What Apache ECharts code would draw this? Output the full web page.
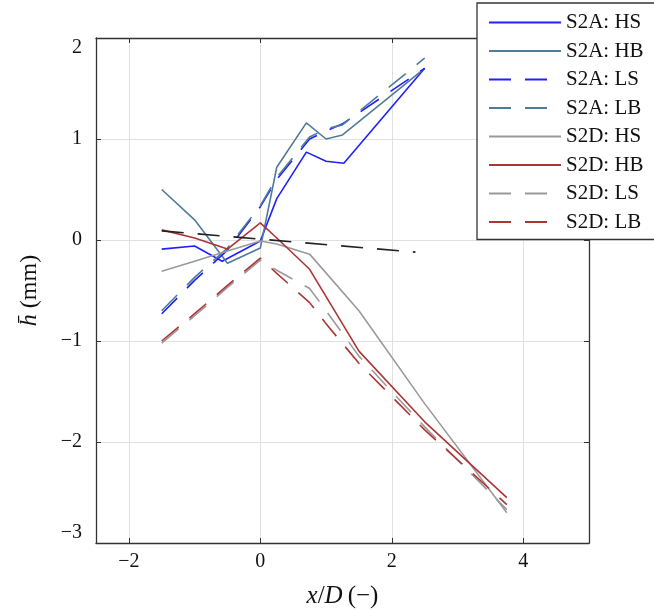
<!DOCTYPE html>
<html>
<head>
<meta charset="utf-8">
<script src="https://cdn.jsdelivr.net/npm/echarts@6/dist/echarts.min.js"></script>
<style>html,body{margin:0;padding:0;background:#fff;}#c{width:654px;height:610px;}</style>
</head>
<body>
<div id="c"></div>
<script>
// ---- data ----
const seriesNames = ['S2A: HS', 'S2A: HB', 'S2A: LS', 'S2A: LB', 'S2D: HS', 'S2D: HB', 'S2D: LS', 'S2D: LB'];
const x_S2A_HS = [-1.5, -1.0, -0.58, 0.0, 0.25, 0.7, 1.0, 1.27, 2.5];
const y_S2A_HS = [-0.09, -0.06, -0.21, -0.01, 0.41, 0.87, 0.78, 0.76, 1.7];
const x_S2A_HB = [-1.5, -1.0, -0.5, 0.0, 0.25, 0.7, 1.0, 1.25, 2.5];
const y_S2A_HB = [0.5, 0.2, -0.23, -0.08, 0.72, 1.16, 1.0, 1.04, 1.7];
const x_S2A_LS = [-1.5, -1.0, -0.5, 0.0, 0.25, 0.75, 1.0, 1.25, 2.5];
const y_S2A_LS = [-0.73, -0.4, -0.1, 0.33, 0.6, 1.0, 1.08, 1.15, 1.7];
const x_S2A_LB = [-1.5, -1.0, -0.5, 0.0, 0.25, 0.75, 1.0, 1.25, 2.5];
const y_S2A_LB = [-0.7, -0.37, -0.08, 0.34, 0.62, 1.02, 1.1, 1.14, 1.8];
const x_S2D_HS = [-1.5, -1.0, -0.5, 0.0, 0.25, 0.75, 1.5, 2.5, 3.75];
const y_S2D_HS = [-0.31, -0.21, -0.11, -0.01, -0.04, -0.14, -0.7, -1.62, -2.7];
const x_S2D_HB = [-1.5, -1.0, -0.5, 0.0, 0.25, 0.75, 1.5, 2.5, 3.75];
const y_S2D_HB = [0.1, 0.02, -0.09, 0.17, 0.02, -0.29, -1.1, -1.8, -2.55];
const x_S2D_LS = [-1.5, -1.0, -0.5, 0.0, 0.25, 0.75, 1.0, 1.5, 2.5, 3.75];
const y_S2D_LS = [-1.02, -0.75, -0.47, -0.2, -0.3, -0.48, -0.7, -1.15, -1.85, -2.67];
const x_S2D_LB = [-1.5, -1.0, -0.5, 0.0, 0.25, 0.75, 1.0, 1.5, 2.5, 3.75];
const y_S2D_LB = [-1.0, -0.73, -0.45, -0.18, -0.33, -0.62, -0.83, -1.22, -1.88, -2.62];
const x_fit = [-1.5, 2.36];
const y_fit = [0.09, -0.12];
const xRange = [-2.5, 5];
const yRange = [-3, 2];

// ---- build ----
const xs = [x_S2A_HS, x_S2A_HB, x_S2A_LS, x_S2A_LB, x_S2D_HS, x_S2D_HB, x_S2D_LS, x_S2D_LB];
const ys = [y_S2A_HS, y_S2A_HB, y_S2A_LS, y_S2A_LB, y_S2D_HS, y_S2D_HB, y_S2D_LS, y_S2D_LB];
const colors = ['#2020ff', '#4f7b9b', '#2020ff', '#4f7b9b', '#9a9a9a', '#ad3535', '#9a9a9a', '#ad3535'];
const dashed = [false, false, true, true, false, false, true, true];
const pair = (a, b) => a.map((v, i) => [v, b[i]]);
const DASH = [22, 14];
const FONT = 'Liberation Serif';

const series = seriesNames.map((n, i) => ({
  name: n, type: 'line', symbol: 'none', showSymbol: false, animation: false,
  data: pair(xs[i], ys[i]),
  itemStyle: { color: colors[i] },
  lineStyle: { color: colors[i], width: 1.6, type: dashed[i] ? DASH : 'solid' },
  z: 2 + i
}));
series.push({
  name: 'fit', type: 'line', symbol: 'none', showSymbol: false, animation: false,
  data: pair(x_fit, y_fit),
  itemStyle: { color: '#222' },
  lineStyle: { color: '#222', width: 1.6, type: DASH }, z: 20
});

const minus = s => String(s).replace('-', '\u2212');
const axisLine = { show: true, onZero: false, lineStyle: { color: '#333', width: 1.3 } };
const splitLine = { show: true, lineStyle: { color: '#e0e0e0', width: 1 } };
const tick = { show: true, inside: true, length: 5, lineStyle: { color: '#333' } };

const option = {
  backgroundColor: '#fff',
  animation: false,
  grid: { left: 96, right: 65, top: 38, bottom: 67, containLabel: false, outerBoundsMode: 'none' },
  legend: {
    data: seriesNames, orient: 'vertical', left: 477, top: 3,
    itemWidth: 72, itemHeight: 14, itemGap: 7.5,
    padding: [9, 40, 7, 11],
    backgroundColor: '#fff', borderColor: '#333', borderWidth: 1.3,
    itemStyle: { opacity: 0 },
    textStyle: { fontFamily: FONT, fontSize: 21, color: '#111' }
  },
  xAxis: [{
    type: 'value', position: 'bottom', min: xRange[0], max: xRange[1], splitNumber: 4,
    axisLine, splitLine, axisTick: tick,
    axisLabel: {
      showMinLabel: false, showMaxLabel: false,
      fontFamily: FONT, fontSize: 20, color: '#111', margin: 9,
      formatter: v => (Math.abs(v % 2) < 1e-9 ? minus(v) : '')
    },
    name: '{i|x}/{i|D}\u2009(\u2212)', nameLocation: 'middle', nameGap: 41,
    nameTextStyle: { fontFamily: FONT, fontSize: 25, color: '#111',
      rich: { i: { fontFamily: FONT, fontSize: 25, fontStyle: 'italic', color: '#111' } } }
  }, {
    type: 'value', position: 'top', min: xRange[0], max: xRange[1], splitNumber: 4,
    axisLine, splitLine: { show: false }, axisTick: tick,
    axisLabel: { show: false }
  }],
  yAxis: [{
    type: 'value', position: 'left', min: yRange[0], max: yRange[1], interval: 1,
    axisLine, splitLine, axisTick: tick,
    axisLabel: {
      fontFamily: FONT, fontSize: 20, color: '#111', margin: 14,
      verticalAlignMaxLabel: 'top', verticalAlignMinLabel: 'bottom',
      formatter: v => minus(v)
    },
    name: '{i|h\u0304} (mm)', nameLocation: 'middle', nameGap: 54,
    nameTextStyle: { fontFamily: FONT, fontSize: 24, color: '#111',
      rich: { i: { fontFamily: FONT, fontSize: 24, fontStyle: 'italic', color: '#111' } } }
  }, {
    type: 'value', position: 'right', min: yRange[0], max: yRange[1], interval: 1,
    axisLine, splitLine: { show: false }, axisTick: tick,
    axisLabel: { show: false }
  }],
  series
};
const chart = echarts.init(document.getElementById('c'), null, { renderer: 'canvas' });
chart.setOption(option);
</script>
</body>
</html>
